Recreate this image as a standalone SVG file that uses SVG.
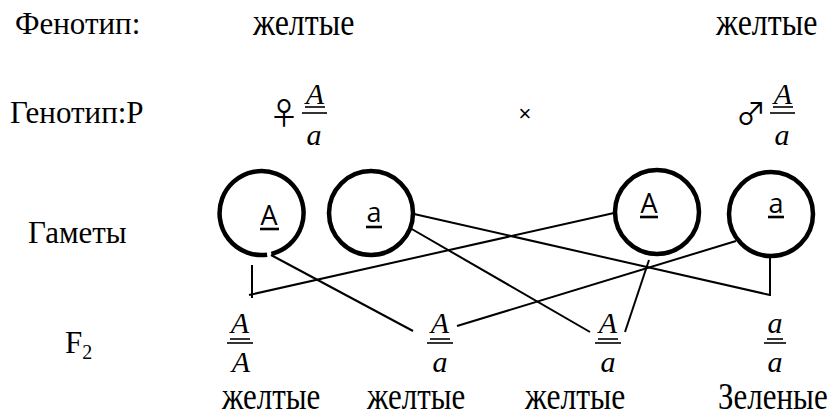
<svg xmlns="http://www.w3.org/2000/svg" width="830" height="417" viewBox="0 0 830 417">
  <style>
    .lbl { font-family: "Liberation Serif", "Times New Roman", serif; font-size: 31px; fill: #000; }
    .ph { font-family: "Liberation Serif", "Times New Roman", serif; font-size: 31px; fill: #000; }
    .sub { font-family: "Liberation Serif", "Times New Roman", serif; font-size: 20px; fill: #000; }
    .gen { font-family: "Liberation Serif", "Times New Roman", serif; font-style: italic; font-size: 30px; fill: #000; text-anchor: middle; }
    .sym { font-family: "Noto Sans CJK JP", "DejaVu Sans", sans-serif; font-size: 30px; fill: #000; text-anchor: middle; }
    .gam { font-family: "Open Sans", "Noto Sans", sans-serif; font-size: 27px; fill: #000; text-anchor: middle; }
    .ring { fill: none; stroke: #000; stroke-width: 4.5; }
    .bar { stroke: #000; stroke-width: 1.6; fill: none; }
    .uline { stroke: #000; stroke-width: 2.6; fill: none; }
    .wire { stroke: #000; stroke-width: 2; fill: none; stroke-linecap: butt; }
  </style>

  <!-- row captions -->
  <g id="captions">
    <text class="lbl" x="15" y="34">Фенотип:</text>
    <text class="lbl" x="10" y="123">Генотип:P</text>
    <text class="lbl" x="28" y="243">Гаметы</text>
    <text class="lbl" x="65" y="353">F<tspan class="sub" dy="6">2</tspan></text>
  </g>

  <!-- parents -->
  <g id="parent-female">
    <text class="ph" transform="translate(253 35) scale(1.03 1.25)">желтые</text>
    <text class="sym" x="284" y="124">♀</text>
    <text class="gen" x="315" y="104">A</text>
    <line class="bar" x1="305" y1="107" x2="325" y2="107"/>
    <line class="bar" x1="302" y1="113" x2="327" y2="113"/>
    <text class="gen" x="314" y="145">a</text>
  </g>

  <g id="cross">
    <text x="525" y="121" font-family="Liberation Sans, Arial, sans-serif" font-size="22" text-anchor="middle">×</text>
  </g>

  <g id="parent-male">
    <text class="ph" transform="translate(716 35) scale(1.03 1.25)">желтые</text>
    <text class="sym" x="751" y="124">♂</text>
    <text class="gen" x="783" y="104">A</text>
    <line class="bar" x1="773" y1="107" x2="793" y2="107"/>
    <line class="bar" x1="770" y1="113" x2="795" y2="113"/>
    <text class="gen" x="782" y="145">a</text>
  </g>

  <!-- gametes -->
  <g id="gamete-A1">
    <path class="ring" d="M 267.1 254.7 A 42 42 0 1 1 271.4 253.9"/>
    <text class="gam" x="269" y="225">A</text>
    <line class="uline" x1="260" y1="229" x2="279" y2="229"/>
  </g>
  <g id="gamete-a1">
    <circle class="ring" cx="371" cy="213" r="42"/>
    <text class="gam" x="374" y="222">a</text>
    <line class="uline" x1="366" y1="227" x2="382" y2="227"/>
  </g>
  <g id="gamete-A2">
    <circle class="ring" cx="657" cy="212" r="42"/>
    <text class="gam" x="649" y="213">A</text>
    <line class="uline" x1="640" y1="217" x2="658" y2="217"/>
  </g>
  <g id="gamete-a2">
    <circle class="ring" cx="771" cy="214" r="42"/>
    <text class="gam" x="776" y="213">a</text>
    <line class="uline" x1="768" y1="217" x2="784" y2="217"/>
  </g>

  <!-- connectors between gametes and offspring -->
  <g id="connectors">
    <line class="wire" x1="252" y1="265" x2="252" y2="298"/>
    <line class="wire" x1="249" y1="295" x2="614" y2="213"/>
    <line class="wire" x1="271" y1="255" x2="413" y2="331"/>
    <line class="wire" x1="414" y1="214" x2="770" y2="295"/>
    <line class="wire" x1="770" y1="257" x2="770" y2="296"/>
    <line class="wire" x1="410" y1="228" x2="590" y2="332"/>
    <line class="wire" x1="736" y1="241" x2="457" y2="326"/>
    <line class="wire" x1="649" y1="260" x2="625" y2="332"/>
  </g>

  <!-- offspring -->
  <g id="f2-AA">
    <text class="gen" x="240" y="333">A</text>
    <line class="bar" x1="230" y1="339" x2="250" y2="339"/>
    <line class="bar" x1="227" y1="343" x2="253" y2="343"/>
    <text class="gen" x="241" y="372">A</text>
    <text class="ph" transform="translate(222 409) scale(1 1.22)">желтые</text>
  </g>
  <g id="f2-Aa-1">
    <text class="gen" x="440" y="333">A</text>
    <line class="bar" x1="430" y1="339" x2="450" y2="339"/>
    <line class="bar" x1="427" y1="343" x2="453" y2="343"/>
    <text class="gen" x="440" y="372">a</text>
    <text class="ph" transform="translate(367 409) scale(1 1.22)">желтые</text>
  </g>
  <g id="f2-Aa-2">
    <text class="gen" x="608" y="333">A</text>
    <line class="bar" x1="598" y1="339" x2="618" y2="339"/>
    <line class="bar" x1="595" y1="343" x2="621" y2="343"/>
    <text class="gen" x="608" y="372">a</text>
    <text class="ph" transform="translate(525 409) scale(1.02 1.22)">желтые</text>
  </g>
  <g id="f2-aa">
    <text class="gen" x="775" y="333">a</text>
    <line class="bar" x1="767" y1="339" x2="783" y2="339"/>
    <line class="bar" x1="764" y1="343" x2="786" y2="343"/>
    <text class="gen" x="775" y="372">a</text>
    <text class="ph" transform="translate(718 409) scale(1 1.22)">Зеленые</text>
  </g>
</svg>
